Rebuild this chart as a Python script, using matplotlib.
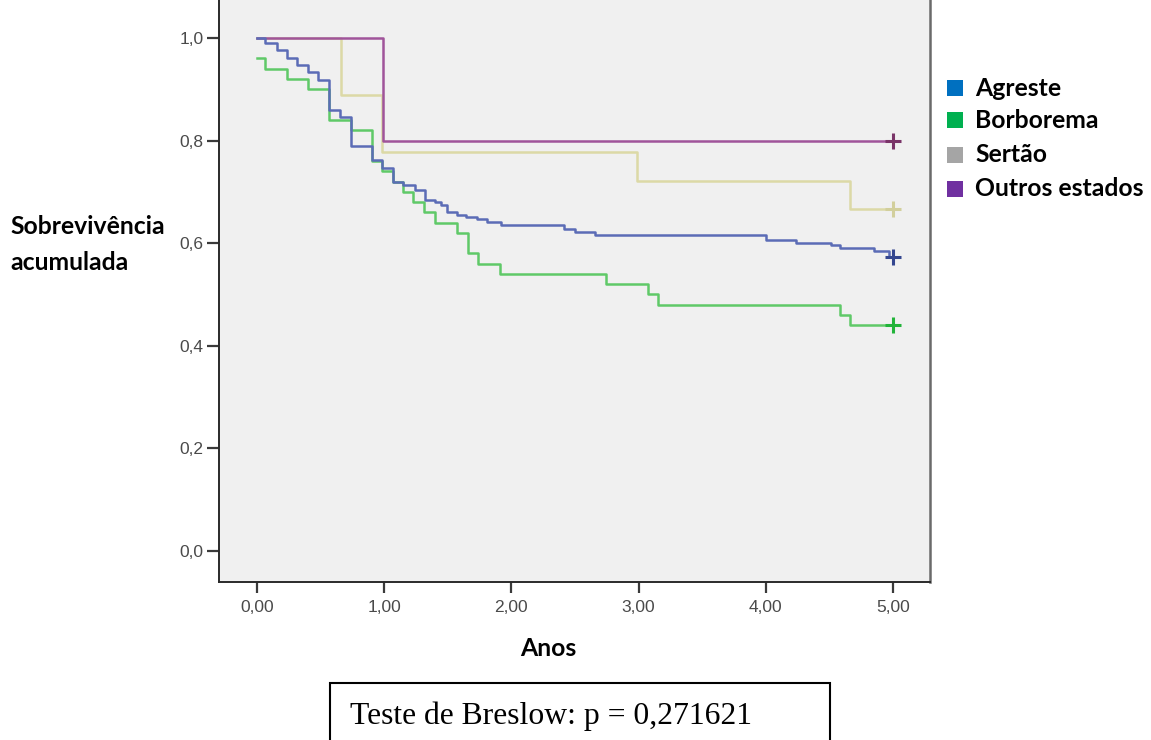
import matplotlib
matplotlib.use("Agg")
import matplotlib.pyplot as plt
from matplotlib.patches import Rectangle

# ---- data ----
groups = ["Agreste", "Borborema", "Sertão", "Outros estados"]

agreste_t = [0, 0.063, 0.155, 0.233, 0.312, 0.40, 0.48, 0.566, 0.65, 0.735, 0.90, 0.98, 1.07,
             1.15, 1.24, 1.32, 1.40, 1.45, 1.49, 1.57, 1.64, 1.73, 1.81, 1.92, 2.41, 2.50, 2.66,
             4.00, 4.24, 4.51, 4.58, 4.85, 4.97]
agreste_s = [1.0, 0.991, 0.977, 0.960, 0.947, 0.934, 0.918, 0.860, 0.845, 0.790, 0.762, 0.746, 0.720,
             0.713, 0.704, 0.684, 0.681, 0.674, 0.660, 0.655, 0.652, 0.648, 0.642, 0.635, 0.627, 0.621, 0.616,
             0.606, 0.601, 0.596, 0.590, 0.585, 0.573]

borborema_t = [0, 0.063, 0.233, 0.40, 0.566, 0.735, 0.90, 0.98, 1.07, 1.15, 1.23, 1.31, 1.40,
               1.575, 1.656, 1.74, 1.91, 2.74, 3.07, 3.155, 4.58, 4.66]
borborema_s = [0.96, 0.94, 0.92, 0.90, 0.84, 0.82, 0.76, 0.74, 0.72, 0.70, 0.68, 0.66, 0.64,
               0.62, 0.58, 0.56, 0.54, 0.52, 0.50, 0.48, 0.46, 0.44]

sertao_t = [0, 0.66, 0.98, 2.99, 4.66]
sertao_s = [1.0, 0.889, 0.778, 0.722, 0.667]

outros_t = [0, 0.99]
outros_s = [1.0, 0.80]

end_time = 5.0

x_ticks = [0, 1, 2, 3, 4, 5]
x_ticklabels = ["0,00", "1,00", "2,00", "3,00", "4,00", "5,00"]
y_ticks = [0.0, 0.2, 0.4, 0.6, 0.8, 1.0]
y_ticklabels = ["0,0", "0,2", "0,4", "0,6", "0,8", "1,0"]

# ---- styling ----
line_colors = ["#5b6cb6", "#5fc968", "#dcd9a6", "#a0549a"]
cens_colors = ["#34468f", "#22b43a", "#d2cf9c", "#7a3468"]
legend_colors = ["#0070c0", "#00b050", "#a5a5a5", "#7030a0"]
draw_order = [2, 3, 1, 0]

W, H = 1151, 740
fig = plt.figure(figsize=(W / 100, H / 100), dpi=100)
fig.patch.set_facecolor("white")

ax = fig.add_axes([219 / W, 1 - 582 / H, (930 - 219) / W, 582 / H])
ax.set_facecolor("#f0f0f0")

series = [(agreste_t, agreste_s), (borborema_t, borborema_s),
          (sertao_t, sertao_s), (outros_t, outros_s)]

for i in draw_order:
    t, s = series[i]
    tt = list(t) + [end_time]
    ss = list(s) + [s[-1]]
    ax.step(tt, ss, where="post", color=line_colors[i], lw=1.8, zorder=3 + (i == 0))
    ax.plot([end_time], [s[-1]], marker="+", ms=12, mew=2.2, color=cens_colors[i],
            zorder=5, linestyle="none")

ax.set_xlim(-0.299, 5.291)
ax.set_ylim(-0.0604, 1.074)

ax.set_xticks(x_ticks)
ax.set_xticklabels(x_ticklabels)
ax.set_yticks(y_ticks)
ax.set_yticklabels(y_ticklabels)

for lab in ax.get_xticklabels() + ax.get_yticklabels():
    lab.set_fontfamily("Liberation Sans")
    lab.set_fontsize(12.5)
    lab.set_color("#4a4a4a")

ax.tick_params(axis="x", direction="out", length=8, width=1.6, color="#3a3a3a", pad=5)
ax.tick_params(axis="y", direction="out", length=9, width=1.6, color="#3a3a3a", pad=2)

ax.spines["top"].set_visible(False)
for side in ["left", "bottom"]:
    ax.spines[side].set_color("#2a2a2a")
    ax.spines[side].set_linewidth(1.4)
ax.spines["right"].set_color("#6a6a6a")
ax.spines["right"].set_linewidth(1.8)

bold = dict(family="Lato", weight="bold", size=17.8, color="black")

# y label
fig.text(10 / W, 1 - 226 / H, "Sobrevivência", ha="left", va="center", **bold)
fig.text(10 / W, 1 - 263 / H, "acumulada", ha="left", va="center", **bold)

# x label
fig.text(548 / W, 1 - 649 / H, "Anos", ha="center", va="center", **bold)

# legend
leg_y = [88, 120, 155, 189]
for name, col, y in zip(groups, legend_colors, leg_y):
    fig.patches.append(Rectangle((947 / W, 1 - (y + 8) / H), 16 / W, 16 / H,
                                 transform=fig.transFigure, facecolor=col, edgecolor="none"))
    fig.text(975 / W, 1 - (y + 0) / H, name, ha="left", va="center", **bold)

# Breslow box
fig.patches.append(Rectangle((330 / W, 1 - 760 / H), 500 / W, 77 / H,
                             transform=fig.transFigure, facecolor="white",
                             edgecolor="black", lw=1.5, clip_on=False))
fig.text(350 / W, 1 - 716 / H, "Teste de Breslow: p = 0,271621", ha="left", va="center",
         family="Liberation Serif", size=22.8, color="black")

fig.savefig("out.png", dpi=100)
